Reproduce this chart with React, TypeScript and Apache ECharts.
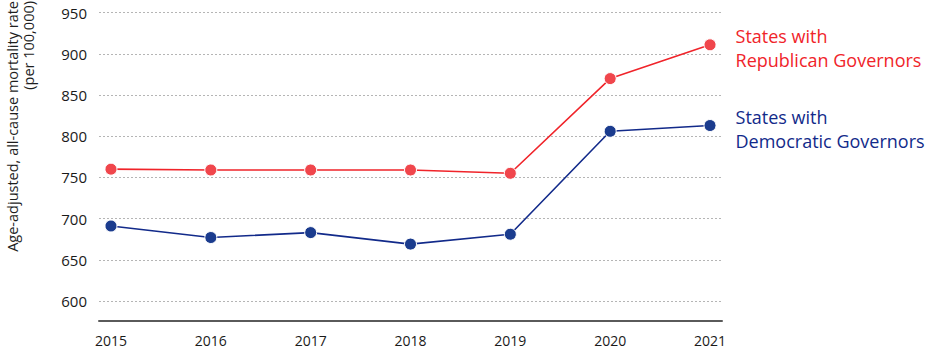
import React, { useEffect, useRef } from "react";
import * as echarts from "echarts";

const years = [2015, 2016, 2017, 2018, 2019, 2020, 2021];
const republican = [760, 759, 759, 759, 755, 870, 911];
const democratic = [691, 677, 683, 669, 681, 806, 813];
const yTicks = [600, 650, 700, 750, 800, 850, 900, 950];
const repLabel = "States with\nRepublican Governors";
const demLabel = "States with\nDemocratic Governors";
const yAxisTitle = "Age-adjusted, all-cause mortality rate\n(per 100,000)";

const RED = "#f0242a";
const RED_DOT = "#f0464c";
const BLUE = "#122a8a";
const BLUE_DOT = "#1b3c8e";
const FONT = "Open Sans";

function seriesData(values: number[], label: string, color: string) {
  return values.map((v, i) => {
    const item: any = { value: [years[i], v] };
    if (i === values.length - 1) {
      item.label = {
        show: true,
        position: "right",
        distance: 19,
        offset: [0, 3],
        formatter: label,
        color,
        fontSize: 18,
        lineHeight: 24,
        fontFamily: FONT,
        align: "left",
      };
    }
    return item;
  });
}

export default function App() {
  const ref = useRef<HTMLDivElement>(null);
  useEffect(() => {
    if (!ref.current) return;
    const chart = echarts.init(ref.current, null, { renderer: "svg" });
    chart.setOption({
      animation: false,
      backgroundColor: "#ffffff",
      textStyle: { fontFamily: FONT },
      grid: { left: 99, right: 209, top: 12.7, bottom: 32.3, containLabel: false },
      xAxis: {
        type: "value",
        min: 2014.88,
        max: 2021.12,
        splitNumber: 6,
        axisLine: { show: true, lineStyle: { color: "#5a5a5a", width: 2 } },
        axisTick: { show: false },
        splitLine: { show: false },
        axisLabel: {
          color: "#1a1a1a",
          fontSize: 14,
          fontWeight: 500,
          fontFamily: FONT,
          margin: 13,
          showMinLabel: false,
          showMaxLabel: false,
          formatter: (v: number) => (years.indexOf(Math.round(v * 1000) / 1000) >= 0 ? String(v) : ""),
        },
      },
      yAxis: {
        type: "value",
        min: 576,
        max: 950,
        splitNumber: 8,
        axisLine: { show: false },
        axisTick: { show: false },
        splitLine: { show: true, lineStyle: { color: "#b5b5b5", type: [2, 2], width: 1 } },
        axisLabel: {
          color: "#1a1a1a",
          fontSize: 15,
          fontWeight: 500,
          fontFamily: FONT,
          margin: 12,
          formatter: (v: number) => (yTicks.indexOf(v) >= 0 ? String(v) : ""),
        },
      },
      graphic: [
        {
          type: "text",
          x: 20,
          y: 1,
          rotation: Math.PI / 2,
          style: {
            text: yAxisTitle,
            textAlign: "right",
            textVerticalAlign: "middle",
            fontSize: 14.5,
            lineHeight: 16,
            fontFamily: FONT,
            fill: "#1e1e1e",
          },
        },
      ],
      series: [
        {
          type: "line",
          data: seriesData(republican, repLabel, RED),
          symbol: "circle",
          symbolSize: 12,
          lineStyle: { color: RED, width: 1.6 },
          itemStyle: { color: RED_DOT, borderColor: "#ffffff", borderWidth: 1 },
          z: 3,
        },
        {
          type: "line",
          data: seriesData(democratic, demLabel, BLUE),
          symbol: "circle",
          symbolSize: 12,
          lineStyle: { color: BLUE, width: 1.6 },
          itemStyle: { color: BLUE_DOT, borderColor: "#ffffff", borderWidth: 1 },
          z: 3,
        },
      ],
    });
    return () => chart.dispose();
  }, []);
  return <div ref={ref} style={{ width: 931, height: 353, position: "absolute", left: 0, top: 0 }} />;
}
